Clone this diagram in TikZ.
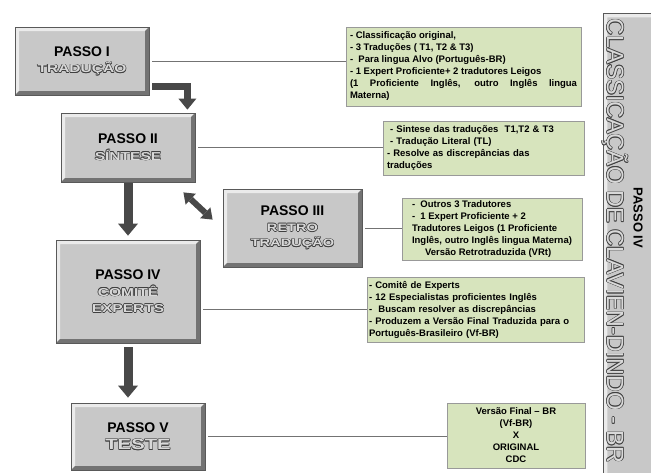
\documentclass[tikz,border=0pt]{standalone}
\usepackage{fontspec}
\setmainfont{Liberation Sans}
\usepackage{graphicx}
\usetikzlibrary{arrows.meta, positioning, calc, shadows}

\definecolor{verdecaixa}{RGB}{215,228,189}
\definecolor{cinzacaixa}{RGB}{200,200,200}
\definecolor{cinzaseta}{RGB}{72,72,72}

% texto vazado (contorno escuro, miolo claro)
\newcommand\wordart[3]{{\setbox0\hbox{\scalebox{#2}[1]{\fontsize{#1}{#1}\selectfont\bfseries #3}}%
  \rlap{\color{black!75}\kern.6pt\copy0}%
  \rlap{\color{black!75}\kern-.6pt\copy0}%
  \rlap{\color{black!75}\raise.6pt\copy0}%
  \rlap{\color{black!75}\raise-.6pt\copy0}%
  \rlap{\color{black!75}\kern.45pt\raise.45pt\copy0}%
  \rlap{\color{black!75}\kern.45pt\raise-.45pt\copy0}%
  \rlap{\color{black!75}\kern-.45pt\raise.45pt\copy0}%
  \rlap{\color{black!75}\kern-.45pt\raise-.45pt\copy0}%
  {\color{black!15}\copy0}}}

\tikzset{
  bevel/.style={path picture={
    \coordinate (nw) at (path picture bounding box.north west);
    \coordinate (se) at (path picture bounding box.south east);
    \fill[black!8] (nw) -- (nw -| se) -- ++(-#1,-#1) -- ($(nw)+(#1,-#1)$)
      -- ($(nw |- se)+(#1,#1)$) -- (nw |- se) -- cycle;
    \fill[black!55] (se) -- (se |- nw) -- ++(-#1,-#1) -- ($(se)+(-#1,#1)$)
      -- ($(se -| nw)+(#1,#1)$) -- (se -| nw) -- cycle;
  }},
  passo/.style={draw=black!65, line width=0.8pt, fill=cinzacaixa, bevel=4pt,
    align=center, inner sep=2pt, font=\fontsize{14}{16.5}\selectfont\bfseries},
  nota/.style={draw=black!40, line width=1pt, fill=verdecaixa,
    drop shadow={opacity=.3, shadow xshift=1.2pt, shadow yshift=-1.2pt},
    inner xsep=4pt, inner ysep=2pt, font=\fontsize{9.5}{12}\selectfont\bfseries, align=left},
  ligacao/.style={draw=black!55, line width=0.8pt, shorten <=3pt},
  seta/.style={draw=cinzaseta, line width=9pt, -{Triangle[length=12pt, width=20pt, line width=0pt]}},
}

\begin{document}
\begin{tikzpicture}[x=1pt, y=-1pt]
\useasboundingbox (0,0) rectangle (651,472);

% faixa lateral
\node[passo, minimum width=53pt, minimum height=465pt, anchor=north west] (faixa) at (603,13) {};
\node[rotate=-90] (titulo) at (615,241) {\wordart{23.5}{0.99}{\mdseries CLASSICAÇÃO DE CLAVIEN-DINDO - BR}};
\node[rotate=-90, font=\fontsize{13}{13}\selectfont\bfseries] (passoIVb) at (638,218) {PASSO IV};

% passos
\node[passo, minimum width=134pt, minimum height=68pt] (passoI) at (82,61)
  {PASSO I\\\wordart{11.5}{1.35}{TRADUÇÃO}};
\node[passo, minimum width=134pt, minimum height=69pt] (passoII) at (128,147.5)
  {PASSO II\\\wordart{11.5}{1.35}{SÍNTESE}};
\node[passo, minimum width=139pt, minimum height=78pt] (passoIII) at (292.5,228)
  {PASSO III\\[-1pt]\wordart{10.8}{1.35}{RETRO}\\[-1pt]\wordart{10.8}{1.35}{TRADUÇÃO}};
\node[passo, minimum width=144pt, minimum height=103pt] (passoIV) at (128,291.5)
  {PASSO IV\\\wordart{11.5}{1.35}{COMITÊ}\\\wordart{11.5}{1.35}{EXPERTS}};
\node[passo, minimum width=134pt, minimum height=67pt] (passoV) at (138,436.5)
  {PASSO V\\[1pt]\wordart{15}{1.35}{TESTE}};

% notas
\node[nota, text width=227pt, align=justify, minimum height=79pt] (notaI) at (463.5,66.5)
  {- Classificação original,\par
   - 3 Traduções ( T1, T2 \& T3)\par
   -\ \ Para lingua Alvo (Português-BR)\par
   - 1 Expert Proficiente+ 2 tradutores Leigos\par
   (1 Proficiente Inglês, outro Inglês lingua\linebreak Materna)};
\node[nota, text width=193pt, minimum height=54pt] (notaII) at (483.5,148)
  {\ - Sintese das traduções\ \ T1,T2 \& T3\\
   \ - Tradução Literal (TL)\\
   - Resolve as discrepâncias das\\
   traduções};
\node[nota, inner xsep=1pt, minimum width=180pt, minimum height=62pt] (notaIII) at (492,229)
  {-\ \ Outros 3 Tradutores\\
   -\ \ 1 Expert Proficiente + 2\\
   Tradutores Leigos (1 Proficiente\\
   Inglês, outro Inglês lingua Materna)\\
   \hspace*{13pt}Versão Retrotraduzida (VRt)};
\node[nota, text width=213pt, inner xsep=2pt, minimum height=65pt] (notaIV) at (475.5,309.5)
  {- Comitê de Experts\\
   - 12 Especialistas proficientes Inglês\\
   -\ \ Buscam resolver as discrepâncias\\
   - Produzem a Versão Final Traduzida para o\\
   Português-Brasileiro (Vf-BR)};
\node[nota, align=center, minimum width=138pt, minimum height=65pt] (notaV) at (516,435.5)
  {Versão Final – BR\\(Vf-BR)\\X\\ORIGINAL\\CDC};

% ligacoes
\draw[ligacao] (passoI.east) -- (passoI.east -| notaI.west);
\draw[ligacao] (passoII.east) -- (passoII.east -| notaII.west);
\draw[ligacao] (passoIII.east) -- (passoIII.east -| notaIII.west);
\draw[ligacao] (passoIV.east |- notaIV.west) -- (notaIV.west);
\draw[ligacao] (passoV.east) -- (passoV.east -| notaV.west);

% setas
\draw[seta, line width=7pt, -{Triangle[length=11pt, width=18pt, line width=0pt]}, line join=miter]
  ($(passoI.south east)+(3pt,9pt)$) -| ($(passoII.north east)+(-8pt,3pt)$);
\draw[seta] ([yshift=-1pt]passoII.south) -- ([yshift=4pt]passoIV.north);
\draw[seta] ([yshift=-4pt]passoIV.south) -- ([yshift=5pt]passoIV.south |- passoV.north);
\draw[seta, line width=6pt, {Triangle[length=10pt, width=15pt, line width=0pt]}-{Triangle[length=10pt, width=15pt, line width=0pt]}]
  ($(passoII.south east)+(-12pt,-10pt)$) -- ($(passoIII.north west)+(-10pt,-31pt)$);
\end{tikzpicture}
\end{document}
